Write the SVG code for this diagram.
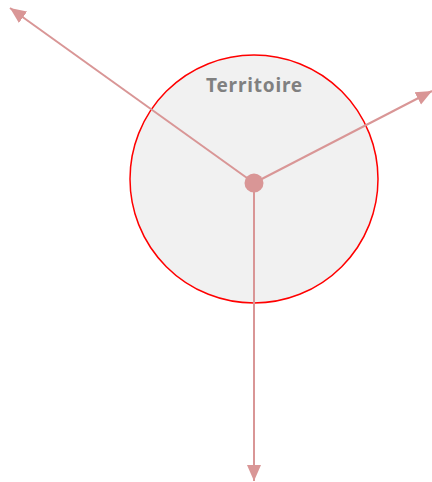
<svg xmlns="http://www.w3.org/2000/svg" width="432" height="482" viewBox="0 0 432 482">
<style>
.edge{stroke:#d99696;stroke-width:2;fill:none}
.lbl{font-family:"Noto Sans",sans-serif;font-weight:bold;font-size:19px;letter-spacing:0.8px;fill:#808080}
</style>
<defs>
<marker id="a2" markerWidth="16" markerHeight="16" refX="16" refY="8" markerUnits="userSpaceOnUse" orient="auto">
<path d="M0,1 L16,8 L0,15 Z" fill="#d99696"/>
</marker>
</defs>
<g id="territoire">
<circle cx="254" cy="179" r="124" fill="#f1f1f1" stroke="#ff0000" stroke-width="1.5"/>
<text class="lbl" x="254.5" y="92" text-anchor="middle">Territoire</text>
</g>
<g id="connectors">
<line class="edge" x1="254" y1="183" x2="10" y2="8" marker-end="url(#a2)"/>
<line class="edge" x1="254" y1="183" x2="432" y2="91" marker-end="url(#a2)"/>
<line class="edge" x1="254" y1="183" x2="254" y2="481" marker-end="url(#a2)"/>
</g>
<g id="center">
<circle cx="254" cy="183" r="9.5" fill="#d99696"/>
</g>
</svg>
